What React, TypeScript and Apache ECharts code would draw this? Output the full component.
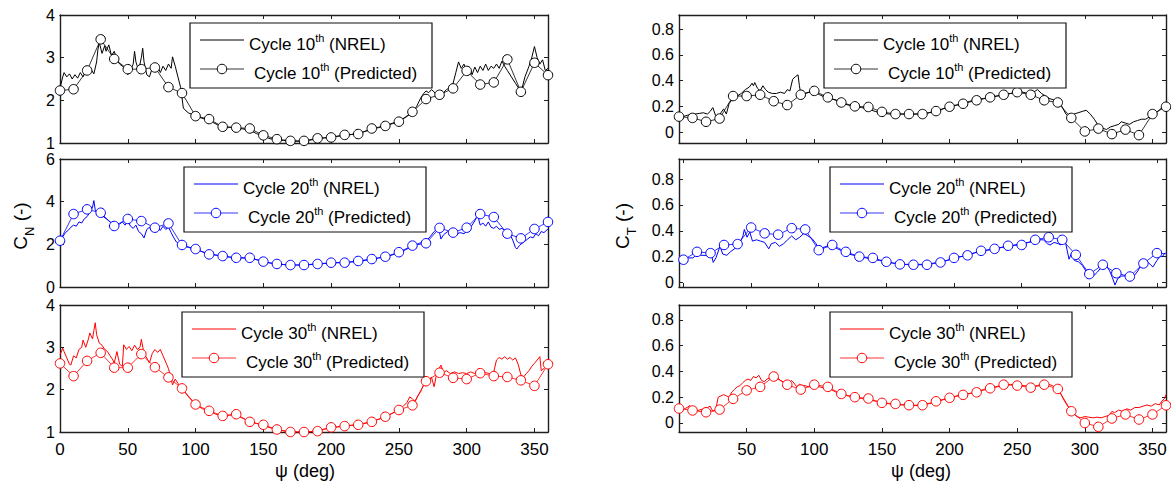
import React, { useEffect, useRef } from "react";
import * as echarts from "echarts";

// ---------- data ----------
const predPsi = [0, 10, 20, 30, 40, 50, 60, 70, 80, 90, 100, 110, 120, 130, 140, 150, 160, 170, 180, 190, 200, 210, 220, 230, 240, 250, 260, 270, 280, 290, 300, 310, 320, 330, 340, 350, 360];

const predCn10 = [2.23, 2.26, 2.70, 3.43, 2.97, 2.73, 2.73, 2.77, 2.31, 2.17, 1.63, 1.56, 1.38, 1.36, 1.34, 1.18, 1.09, 1.05, 1.05, 1.11, 1.13, 1.19, 1.21, 1.34, 1.40, 1.50, 1.73, 2.03, 2.13, 2.28, 2.69, 2.37, 2.42, 2.96, 2.20, 2.88, 2.59];
const predCn20 = [2.17, 3.42, 3.64, 3.48, 2.86, 3.19, 3.09, 2.78, 2.98, 1.97, 1.78, 1.53, 1.45, 1.37, 1.37, 1.19, 1.08, 1.03, 1.03, 1.08, 1.14, 1.14, 1.22, 1.31, 1.42, 1.63, 1.94, 2.05, 2.77, 2.55, 2.78, 3.42, 3.28, 2.50, 2.28, 2.72, 3.05];
const predCn30 = [2.62, 2.32, 2.68, 2.87, 2.52, 2.52, 2.84, 2.53, 2.29, 2.03, 1.65, 1.50, 1.38, 1.42, 1.24, 1.17, 1.06, 1.00, 1.00, 1.02, 1.11, 1.14, 1.17, 1.24, 1.36, 1.52, 1.63, 2.20, 2.40, 2.28, 2.25, 2.39, 2.32, 2.30, 2.22, 2.09, 2.60];
const predCt10 = [0.12, 0.11, 0.08, 0.105, 0.28, 0.28, 0.29, 0.24, 0.21, 0.29, 0.32, 0.27, 0.23, 0.20, 0.195, 0.157, 0.14, 0.14, 0.14, 0.163, 0.197, 0.22, 0.247, 0.27, 0.29, 0.31, 0.29, 0.247, 0.23, 0.11, 0.005, 0.027, -0.016, 0.019, -0.024, 0.14, 0.197];
const predCt20 = [0.176, 0.237, 0.227, 0.29, 0.297, 0.425, 0.38, 0.37, 0.42, 0.41, 0.25, 0.29, 0.237, 0.20, 0.19, 0.16, 0.14, 0.137, 0.137, 0.155, 0.19, 0.21, 0.245, 0.26, 0.284, 0.29, 0.33, 0.35, 0.33, 0.214, 0.065, 0.137, 0.072, 0.046, 0.147, 0.227, 0.22];
const predCt30 = [0.112, 0.097, 0.083, 0.104, 0.187, 0.253, 0.28, 0.36, 0.297, 0.259, 0.297, 0.28, 0.225, 0.20, 0.19, 0.156, 0.148, 0.138, 0.138, 0.168, 0.195, 0.218, 0.238, 0.269, 0.297, 0.29, 0.274, 0.297, 0.264, 0.091, 0.0, -0.03, 0.035, 0.066, 0.027, 0.066, 0.137];

const nrelCn10 = [[0,2.28],[2,2.55],[3,2.65],[5,2.55],[7,2.62],[9,2.5],[11,2.6],[13,2.52],[15,2.65],[17,2.55],[19,2.68],[21,2.62],[23,2.72],[25,2.62],[27,2.9],[28,3.2],[29,3.35],[31,3.1],[33,3.28],[34,3.15],[36,3.3],[38,3.05],[40,3.15],[42,2.95],[44,2.85],[46,2.8],[48,2.75],[50,2.6],[52,2.7],[54,2.85],[55,3.15],[56,2.9],[58,2.7],[60,3.0],[61,3.22],[62,2.9],[64,2.6],[66,2.55],[68,2.75],[70,2.72],[72,2.8],[74,2.65],[76,2.8],[78,2.7],[80,2.85],[82,2.75],[83,3.02],[85,2.8],[87,2.55],[89,2.3],[91,1.82],[93,1.75],[95,1.7],[97,1.68],[100,1.63],[103,1.6],[106,1.57],[110,1.55],[113,1.48],[116,1.43],[120,1.38],[125,1.37],[130,1.35],[135,1.33],[140,1.3],[145,1.22],[150,1.16],[155,1.1],[160,1.07],[165,1.06],[170,1.04],[175,1.04],[180,1.05],[185,1.07],[190,1.1],[195,1.12],[200,1.14],[205,1.16],[210,1.18],[215,1.2],[220,1.23],[225,1.27],[230,1.32],[235,1.36],[240,1.41],[245,1.46],[250,1.52],[255,1.6],[260,1.72],[263,1.85],[266,2.05],[268,2.15],[270,2.22],[272,2.18],[274,2.25],[276,2.2],[278,2.1],[280,2.02],[282,2.15],[285,2.25],[288,2.3],[290,2.4],[292,2.65],[294,2.9],[296,2.75],[298,2.85],[300,2.65],[302,2.75],[304,2.6],[306,2.78],[308,2.65],[310,2.8],[312,2.7],[314,2.85],[316,2.7],[318,2.8],[320,2.75],[322,2.85],[324,2.75],[326,2.92],[328,2.8],[330,2.7],[333,2.55],[336,2.4],[339,2.25],[341,2.3],[343,2.55],[346,2.8],[348,3.0],[350,3.26],[352,3.0],[354,2.85],[356,2.95],[358,2.7],[360,2.75]];

const nrelCn20 = [[0,2.2],[2,2.35],[4,2.55],[6,2.65],[8,2.8],[10,2.9],[12,2.85],[14,3.05],[16,3.0],[18,3.2],[20,3.3],[22,3.5],[24,3.75],[25,4.05],[26,3.6],[28,3.45],[30,3.4],[32,3.3],[34,3.2],[36,3.1],[38,3.0],[40,3.05],[42,3.0],[44,2.95],[46,3.05],[48,2.9],[50,3.1],[52,2.85],[54,2.75],[56,2.9],[58,2.6],[60,2.5],[62,2.3],[64,2.7],[66,2.8],[68,2.6],[70,2.75],[72,2.8],[74,2.65],[76,2.85],[78,2.7],[80,2.8],[82,2.55],[84,2.3],[86,2.1],[88,2.0],[90,1.95],[95,1.85],[100,1.78],[105,1.65],[110,1.55],[115,1.5],[120,1.45],[125,1.4],[130,1.37],[135,1.36],[140,1.35],[145,1.28],[150,1.2],[155,1.12],[160,1.08],[165,1.05],[170,1.03],[175,1.03],[180,1.04],[185,1.06],[190,1.08],[195,1.1],[200,1.13],[210,1.15],[220,1.2],[225,1.25],[230,1.3],[235,1.36],[240,1.42],[245,1.5],[250,1.6],[255,1.75],[260,1.9],[265,2.05],[270,2.15],[273,2.35],[276,2.6],[278,2.7],[280,2.55],[281,2.25],[283,2.45],[286,2.6],[288,2.5],[290,2.6],[292,2.45],[295,2.55],[298,2.5],[300,2.6],[302,2.75],[304,2.9],[306,3.1],[308,3.38],[310,2.9],[312,3.0],[314,2.85],[316,3.05],[318,2.8],[320,2.75],[322,2.85],[324,2.7],[326,2.75],[328,2.65],[330,2.6],[332,2.45],[334,2.2],[336,1.85],[337,1.78],[339,1.95],[341,2.05],[343,2.15],[345,2.25],[347,2.35],[349,2.3],[351,2.5],[353,2.4],[355,2.6],[357,2.55],[360,2.72]];

const nrelCn30 = [[0,2.82],[2,2.98],[3,2.9],[5,2.75],[7,2.6],[8,2.58],[10,2.8],[12,2.75],[14,2.95],[16,3.0],[17,3.17],[19,3.0],[21,3.2],[22,3.34],[24,3.2],[25,3.4],[26,3.58],[27,3.3],[29,3.1],[31,3.05],[33,2.95],[35,2.9],[37,2.8],[39,2.7],[40,2.63],[42,2.9],[44,2.6],[46,2.55],[47,3.06],[49,2.95],[51,3.02],[53,2.92],[55,3.05],[57,2.95],[59,3.0],[60,3.19],[62,2.85],[64,2.75],[66,2.63],[68,2.85],[70,2.95],[72,2.88],[74,2.95],[76,2.8],[78,2.65],[80,2.5],[82,2.25],[83,2.11],[85,2.25],[87,2.15],[89,2.05],[92,1.95],[95,1.82],[98,1.72],[100,1.65],[105,1.55],[110,1.5],[115,1.42],[120,1.38],[125,1.4],[130,1.4],[135,1.32],[140,1.25],[145,1.2],[150,1.16],[155,1.1],[160,1.06],[165,1.03],[170,1.0],[175,1.0],[180,1.0],[185,1.01],[190,1.03],[195,1.07],[200,1.1],[205,1.12],[210,1.14],[215,1.16],[220,1.18],[225,1.21],[230,1.25],[235,1.3],[240,1.36],[245,1.44],[250,1.52],[253,1.6],[256,1.7],[258,1.83],[260,1.78],[262,1.72],[264,1.85],[266,1.95],[268,2.1],[270,2.3],[272,2.2],[274,2.3],[276,2.07],[278,2.4],[281,2.58],[283,2.4],[285,2.45],[288,2.38],[291,2.42],[294,2.38],[297,2.4],[300,2.38],[303,2.42],[306,2.38],[309,2.44],[311,2.46],[314,2.4],[317,2.38],[320,2.42],[322,2.7],[324,2.76],[326,2.72],[328,2.78],[330,2.72],[332,2.76],[334,2.7],[336,2.75],[338,2.6],[340,2.35],[342,2.3],[344,2.38],[346,2.45],[348,2.55],[350,2.62],[352,2.7],[354,2.78],[355,2.45],[357,2.5],[360,2.62]];

const nrelCt10 = [[0,0.105],[3,0.12],[6,0.13],[9,0.14],[12,0.14],[15,0.145],[18,0.15],[21,0.14],[23,0.16],[25,0.19],[27,0.13],[29,0.11],[31,0.15],[33,0.18],[35,0.14],[37,0.22],[39,0.25],[41,0.27],[43,0.28],[46,0.3],[49,0.33],[52,0.35],[54,0.38],[55,0.36],[56,0.385],[58,0.34],[60,0.32],[62,0.36],[64,0.33],[66,0.31],[69,0.3],[72,0.3],[75,0.31],[78,0.3],[80,0.33],[82,0.32],[84,0.41],[86,0.43],[88,0.445],[89,0.36],[90,0.3],[93,0.3],[96,0.31],[100,0.31],[104,0.29],[108,0.27],[112,0.26],[116,0.25],[120,0.23],[125,0.21],[130,0.2],[135,0.19],[140,0.18],[145,0.16],[150,0.15],[155,0.14],[160,0.14],[165,0.14],[170,0.14],[175,0.14],[180,0.14],[185,0.15],[190,0.16],[195,0.18],[200,0.2],[205,0.21],[210,0.22],[215,0.24],[220,0.25],[225,0.26],[230,0.27],[235,0.28],[240,0.29],[245,0.3],[250,0.31],[254,0.31],[258,0.3],[262,0.31],[265,0.33],[268,0.3],[271,0.28],[274,0.26],[277,0.25],[280,0.24],[283,0.2],[286,0.14],[289,0.11],[292,0.14],[295,0.15],[298,0.16],[301,0.17],[304,0.14],[307,0.1],[310,0.05],[313,0.03],[316,0.02],[319,0.04],[322,0.05],[325,0.06],[327,0.08],[330,0.07],[333,0.06],[336,0.08],[339,0.09],[342,0.1],[345,0.1],[348,0.12],[351,0.14],[354,0.16],[357,0.19],[360,0.21]];

const nrelCt20 = [[-3,0.17],[0,0.18],[3,0.19],[7,0.19],[10,0.22],[13,0.21],[16,0.21],[19,0.2],[21,0.2],[22,0.155],[24,0.19],[27,0.28],[29,0.22],[32,0.21],[35,0.24],[39,0.27],[42,0.31],[44,0.36],[45,0.41],[47,0.35],[49,0.39],[51,0.32],[54,0.33],[57,0.32],[60,0.31],[63,0.26],[65,0.3],[68,0.31],[71,0.28],[74,0.3],[77,0.33],[80,0.36],[83,0.33],[86,0.35],[89,0.38],[92,0.36],[95,0.34],[98,0.3],[100,0.26],[103,0.27],[106,0.28],[110,0.28],[114,0.26],[118,0.24],[122,0.22],[126,0.21],[130,0.2],[135,0.19],[140,0.18],[145,0.17],[150,0.16],[155,0.15],[160,0.14],[165,0.14],[170,0.14],[175,0.14],[180,0.14],[185,0.15],[190,0.16],[195,0.17],[200,0.19],[205,0.2],[210,0.21],[215,0.23],[220,0.24],[225,0.25],[230,0.26],[235,0.27],[240,0.28],[245,0.29],[250,0.3],[255,0.31],[260,0.32],[263,0.33],[266,0.33],[269,0.3],[271,0.29],[274,0.31],[277,0.3],[279,0.29],[282,0.33],[285,0.18],[287,0.23],[289,0.17],[292,0.16],[295,0.13],[298,0.08],[300,0.03],[303,0.05],[306,0.08],[309,0.12],[312,0.14],[315,0.09],[317,0.04],[319,-0.02],[321,0.03],[324,0.05],[327,0.05],[330,0.04],[333,0.05],[336,0.09],[338,0.13],[341,0.15],[343,0.16],[345,0.14],[347,0.12],[350,0.17],[352,0.2],[354,0.2],[356,0.23]];

const nrelCt30 = [[0,0.09],[2,0.1],[4,0.11],[6,0.12],[8,0.135],[10,0.1],[12,0.09],[15,0.1],[18,0.11],[21,0.12],[23,0.13],[25,0.09],[27,0.1],[29,0.2],[31,0.21],[33,0.22],[35,0.21],[37,0.2],[39,0.24],[41,0.26],[43,0.28],[45,0.29],[47,0.31],[49,0.33],[51,0.34],[53,0.33],[55,0.36],[57,0.35],[59,0.37],[61,0.33],[63,0.32],[65,0.34],[67,0.35],[69,0.36],[71,0.34],[73,0.35],[75,0.33],[77,0.32],[79,0.31],[81,0.3],[83,0.33],[85,0.31],[87,0.28],[89,0.3],[91,0.29],[93,0.29],[96,0.28],[100,0.29],[104,0.28],[108,0.27],[112,0.26],[116,0.24],[120,0.22],[125,0.21],[130,0.2],[135,0.19],[140,0.18],[145,0.17],[150,0.16],[155,0.15],[160,0.14],[165,0.14],[170,0.135],[175,0.135],[180,0.14],[185,0.15],[190,0.16],[195,0.18],[200,0.19],[205,0.21],[210,0.22],[215,0.23],[220,0.24],[225,0.26],[230,0.27],[235,0.28],[240,0.29],[245,0.3],[250,0.29],[255,0.29],[260,0.28],[265,0.29],[270,0.31],[273,0.3],[276,0.29],[279,0.27],[282,0.23],[285,0.17],[288,0.12],[290,0.09],[292,0.07],[294,0.05],[297,0.04],[300,0.05],[303,0.045],[306,0.04],[309,0.045],[312,0.04],[315,0.05],[318,0.06],[320,0.09],[322,0.08],[325,0.1],[328,0.09],[331,0.11],[334,0.1],[337,0.12],[340,0.12],[343,0.13],[346,0.14],[349,0.13],[352,0.15],[355,0.14],[357,0.17],[359,0.19],[360,0.22]];

const cycles = ["10", "20", "30"];
const xTicksLeft = [0, 50, 100, 150, 200, 250, 300, 350];
const xLabelsLeft = [0, 50, 100, 150, 200, 250, 300, 350];
const xTicksRight = [0, 50, 100, 150, 200, 250, 300, 350];
const xLabelsRight = [50, 100, 150, 200, 250, 300, 350];
const yTicksCn13 = [1, 2, 3, 4];
const yTicksCn06 = [0, 2, 4, 6];
const yTicksCt = [0, 0.2, 0.4, 0.6, 0.8];

// ---------- styles / layout ----------
const FONT = '"Liberation Sans", Arial, Helvetica, sans-serif';
const AX = "#1e1e1e";
const COLORS = ["#000000", "#0000ff", "#ff0000"];

type Panel = {
  left: number; top: number; width: number; height: number;
  xMin: number; xMax: number; yMin: number; yMax: number;
  xTicks: number[]; xLabels: number[]; showX: boolean;
  yTicks: number[];
  color: string; nrel: number[][]; pred: number[];
  box: [number, number]; cycle: string;
};

const panels: Panel[] = [
  { left: 60, top: 15, width: 488, height: 128, xMin: 0, xMax: 360, yMin: 1, yMax: 4, xTicks: xTicksLeft, xLabels: xLabelsLeft, showX: false, yTicks: yTicksCn13, color: COLORS[0], nrel: nrelCn10, pred: predCn10, box: [190, 23], cycle: cycles[0] },
  { left: 60, top: 159, width: 488, height: 128, xMin: 0, xMax: 360, yMin: 0, yMax: 6, xTicks: xTicksLeft, xLabels: xLabelsLeft, showX: false, yTicks: yTicksCn06, color: COLORS[1], nrel: nrelCn20, pred: predCn20, box: [184, 167], cycle: cycles[1] },
  { left: 60, top: 305, width: 488, height: 127, xMin: 0, xMax: 360, yMin: 1, yMax: 4, xTicks: xTicksLeft, xLabels: xLabelsLeft, showX: true, yTicks: yTicksCn13, color: COLORS[2], nrel: nrelCn30, pred: predCn30, box: [182, 312], cycle: cycles[2] },
  { left: 679, top: 15, width: 487, height: 128, xMin: 0, xMax: 360, yMin: -0.085, yMax: 0.91, xTicks: xTicksRight, xLabels: xLabelsRight, showX: false, yTicks: yTicksCt, color: COLORS[0], nrel: nrelCt10, pred: predCt10, box: [824, 23], cycle: cycles[0] },
  { left: 679, top: 159, width: 487, height: 128, xMin: -3.3, xMax: 356.7, yMin: -0.035, yMax: 0.955, xTicks: xTicksRight, xLabels: xLabelsRight, showX: false, yTicks: yTicksCt, color: COLORS[1], nrel: nrelCt20, pred: predCt20, box: [830, 167], cycle: cycles[1] },
  { left: 679, top: 305, width: 487, height: 127, xMin: 0, xMax: 360, yMin: -0.07, yMax: 0.915, xTicks: xTicksRight, xLabels: xLabelsRight, showX: true, yTicks: yTicksCt, color: COLORS[2], nrel: nrelCt30, pred: predCt30, box: [830, 312], cycle: cycles[2] },
];

const fmt = (v: number) => String(Math.round(v * 10) / 10);

function axisCommon(p: Panel, ticks: number[], labels: number[], showLabels: boolean, isX: boolean) {
  return {
    type: "value",
    min: isX ? p.xMin : p.yMin,
    max: isX ? p.xMax : p.yMax,
    axisLine: { show: true, onZero: false, lineStyle: { color: AX, width: 1.4 } },
    axisTick: { show: true, inside: true, length: 4, lineStyle: { color: AX, width: 1 }, customValues: ticks },
    axisLabel: {
      show: showLabels, customValues: labels, margin: isX ? 7 : 5,
      fontSize: isX ? 17 : 16, lineHeight: isX ? 20 : 14, fontFamily: FONT, color: "#000", formatter: fmt,
    },
    splitLine: { show: false },
  };
}

const RICH_SUP = {
  m: { fontSize: 17, fontFamily: FONT, lineHeight: 24, fill: "#000" },
  s: { fontSize: 11, fontFamily: FONT, lineHeight: 11, verticalAlign: "top", fill: "#000" },
};
const RICH_SUB = {
  m: { fontSize: 19, fontFamily: FONT, lineHeight: 30, fill: "#000" },
  s: { fontSize: 13, fontFamily: FONT, lineHeight: 13, verticalAlign: "bottom", fill: "#000" },
};

function legendElements(p: Panel) {
  const [bx, by] = p.box;
  return [
    { type: "rect", z: 100, shape: { x: bx, y: by, width: 242, height: 65 }, style: { fill: "#fff", stroke: "#111", lineWidth: 1.2 } },
    { type: "line", z: 101, shape: { x1: bx + 10, y1: by + 17, x2: bx + 54, y2: by + 17 }, style: { stroke: p.color, lineWidth: 1 } },
    { type: "text", z: 101, x: bx + 59, y: by + 21.5, style: { text: `{m|Cycle ${p.cycle}}{s|th}{m| (NREL)}`, rich: RICH_SUP, align: "left", verticalAlign: "middle" } },
    { type: "line", z: 101, shape: { x1: bx + 10, y1: by + 46, x2: bx + 54, y2: by + 46 }, style: { stroke: p.color, lineWidth: 0.8 } },
    { type: "circle", z: 102, shape: { cx: bx + 32, cy: by + 46, r: 4.75 }, style: { fill: "#fff", stroke: p.color, lineWidth: 1 } },
    { type: "text", z: 101, x: bx + 64, y: by + 50, style: { text: `{m|Cycle ${p.cycle}}{s|th}{m| (Predicted)}`, rich: RICH_SUP, align: "left", verticalAlign: "middle" } },
  ];
}

function buildOption() {
  const grid: any[] = [];
  const xAxis: any[] = [];
  const yAxis: any[] = [];
  const series: any[] = [];
  const graphic: any[] = [];
  panels.forEach((p, i) => {
    grid.push({ left: p.left, top: p.top, width: p.width, height: p.height, containLabel: false });
    xAxis.push({ ...axisCommon(p, p.xTicks, p.xLabels, p.showX, true), gridIndex: i, position: "bottom" });
    xAxis.push({ ...axisCommon(p, p.xTicks, p.xLabels, false, true), gridIndex: i, position: "top" });
    yAxis.push({ ...axisCommon(p, p.yTicks, p.yTicks, true, false), gridIndex: i, position: "left" });
    yAxis.push({ ...axisCommon(p, p.yTicks, p.yTicks, false, false), gridIndex: i, position: "right" });
    series.push({
      type: "line", name: `Cycle ${p.cycle} NREL ${i}`, xAxisIndex: 2 * i, yAxisIndex: 2 * i,
      data: p.nrel, symbol: "none", showSymbol: false, clip: true, z: 2, silent: true,
      lineStyle: { color: p.color, width: 1 }, itemStyle: { color: p.color },
    });
    series.push({
      type: "line", name: `Cycle ${p.cycle} Predicted ${i}`, xAxisIndex: 2 * i, yAxisIndex: 2 * i,
      data: predPsi.map((x, k) => [x, p.pred[k]]), symbol: "circle", symbolSize: 9.5, showSymbol: true,
      clip: true, z: 3, silent: true,
      lineStyle: { color: p.color, width: 0.8 },
      itemStyle: { color: "#fff", borderColor: p.color, borderWidth: 1 },
    });
    graphic.push(...legendElements(p));
  });
  graphic.push(
    { type: "text", z: 101, x: 20.5, y: 226, rotation: Math.PI / 2, style: { text: "{m|C}{s|N}{m| (-)}", rich: RICH_SUB, align: "center", verticalAlign: "middle" } },
    { type: "text", z: 101, x: 622.5, y: 226, rotation: Math.PI / 2, style: { text: "{m|C}{s|T}{m| (-)}", rich: RICH_SUB, align: "center", verticalAlign: "middle" } },
    { type: "text", z: 101, x: 305, y: 471, style: { text: "ψ (deg)", fontSize: 18, fontFamily: FONT, fill: "#000", align: "center", verticalAlign: "middle" } },
    { type: "text", z: 101, x: 921, y: 471, style: { text: "ψ (deg)", fontSize: 18, fontFamily: FONT, fill: "#000", align: "center", verticalAlign: "middle" } },
  );
  return { animation: false, backgroundColor: "#fff", grid, xAxis, yAxis, series, graphic };
}

export default function App() {
  const ref = useRef<HTMLDivElement>(null);
  useEffect(() => {
    if (!ref.current) return;
    const chart = echarts.init(ref.current, undefined, { renderer: "svg" });
    chart.setOption(buildOption() as any);
    return () => chart.dispose();
  }, []);
  return <div ref={ref} style={{ position: "absolute", left: 0, top: 0, width: 1171, height: 484 }} />;
}
